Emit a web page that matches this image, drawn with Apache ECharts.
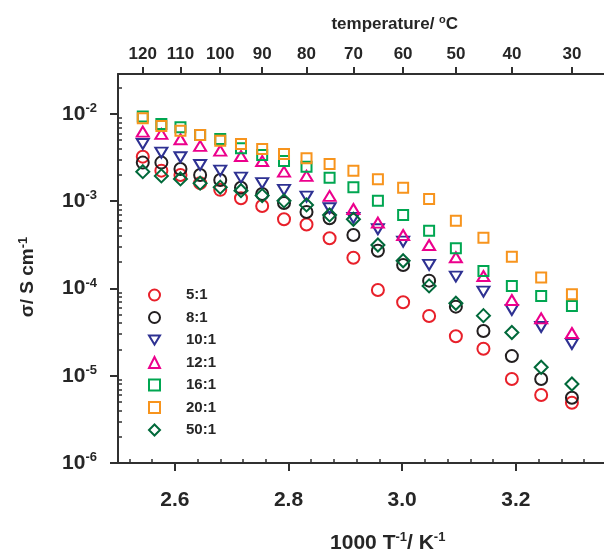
<!DOCTYPE html>
<html><head><meta charset="utf-8">
<script src="https://cdn.jsdelivr.net/npm/echarts@6/dist/echarts.min.js"></script>
<style>html,body{margin:0;padding:0;background:#fff}#c{width:604px;height:551px}</style>
</head><body><div id="c"></div>
<script>
// x values: 1000/T (K^-1), measurement temperatures 120 ... 30 °C in 5 °C steps
const invT = [2.5436, 2.5763, 2.6099, 2.6445, 2.6799, 2.7164, 2.7537, 2.7921, 2.8317, 2.8723,
              2.9142, 2.9573, 3.0017, 3.0474, 3.0945, 3.1430, 3.1930, 3.2446, 3.2987];
const r5  = [3.24e-3, 2.24e-3, 2.00e-3, 1.61e-3, 1.35e-3, 1.08e-3, 8.82e-4, 6.21e-4, 5.41e-4, 3.76e-4,
             2.25e-4, 9.61e-5, 6.95e-5, 4.84e-5, 2.83e-5, 2.04e-5, 9.18e-6, 6.02e-6, 4.91e-6];
const r8  = [2.77e-3, 2.77e-3, 2.34e-3, 2.00e-3, 1.75e-3, 1.43e-3, 1.21e-3, 9.55e-4, 7.53e-4, 6.38e-4,
             4.10e-4, 2.71e-4, 1.86e-4, 1.23e-4, 6.19e-5, 3.26e-5, 1.68e-5, 9.18e-6, 5.60e-6];
const r10 = [4.53e-3, 3.60e-3, 3.19e-3, 2.60e-3, 2.24e-3, 1.86e-3, 1.61e-3, 1.35e-3, 1.13e-3, 8.30e-4,
             6.43e-4, 4.77e-4, 3.44e-4, 1.86e-4, 1.37e-4, 9.19e-5, 5.67e-5, 3.62e-5, 2.31e-5];
const r12 = [6.27e-3, 5.90e-3, 5.13e-3, 4.30e-3, 3.80e-3, 3.30e-3, 2.89e-3, 2.18e-3, 1.95e-3, 1.15e-3,
             8.15e-4, 5.68e-4, 4.10e-4, 3.15e-4, 2.28e-4, 1.39e-4, 7.38e-5, 4.55e-5, 3.09e-5];
const r16 = [9.36e-3, 7.68e-3, 7.04e-3, 5.74e-3, 5.17e-3, 4.04e-3, 3.39e-3, 2.89e-3, 2.49e-3, 1.86e-3,
             1.45e-3, 1.01e-3, 6.96e-4, 4.60e-4, 2.89e-4, 1.59e-4, 1.07e-4, 8.20e-5, 6.30e-5];
const r20 = [8.93e-3, 7.29e-3, 6.44e-3, 5.74e-3, 4.94e-3, 4.53e-3, 3.97e-3, 3.48e-3, 3.11e-3, 2.67e-3,
             2.24e-3, 1.79e-3, 1.43e-3, 1.06e-3, 5.98e-4, 3.82e-4, 2.31e-4, 1.34e-4, 8.58e-5];
const r50 = [2.18e-3, 1.95e-3, 1.80e-3, 1.61e-3, 1.45e-3, 1.32e-3, 1.16e-3, 1.01e-3, 9.06e-4, 6.96e-4,
             6.21e-4, 3.15e-4, 2.08e-4, 1.07e-4, 6.77e-5, 4.88e-5, 3.13e-5, 1.25e-5, 8.04e-6];
const seriesNames = ['5:1', '8:1', '10:1', '12:1', '16:1', '20:1', '50:1'];

// axis ticks
const xMajorTicks = [2.6, 2.8, 3.0, 3.2];
const xMinorTicks = [2.52, 2.56, 2.64, 2.68, 2.72, 2.76, 2.84, 2.88, 2.92, 2.96,
                     3.04, 3.08, 3.12, 3.16, 3.24, 3.28, 3.32, 3.36];
const yMajorTicks = [1e-6, 1e-5, 1e-4, 1e-3, 1e-2];
const topTempLabels = [120, 110, 100, 90, 80, 70, 60, 50, 40, 30];

const X_MIN = 2.5, X_MAX = 3.4, Y_MIN = 1e-6, Y_MAX = 0.0287;
const FONT = 'Liberation Sans';
const TXT = '#262626';
const AX = '#303030';

const topTickPos = topTempLabels.map(t => 1000 / (t + 273.15));
const yMinorLog = [];
for (let e = -6; e <= -2; e++) for (let k = 2; k <= 9; k++) {
  const v = e + Math.log10(k);
  if (v < Math.log10(Y_MAX)) yMinorLog.push(v);
}

const chart = echarts.init(document.getElementById('c'), null, {renderer: 'canvas'});

function mk(name, data, symbol, size, color, rotate) {
  return {
    type: 'scatter', name: name, xAxisIndex: 0, yAxisIndex: 0,
    data: invT.map((x, i) => [x, data[i]]),
    symbol: symbol, symbolSize: size, symbolRotate: rotate || 0,
    itemStyle: {color: 'rgba(255,255,255,0)', borderColor: color, borderWidth: 2, opacity: 1},
    emphasis: {disabled: true}, silent: true
  };
}

const lineStyle = {color: AX, width: 2};
const spacer = w => ({width: w, height: 1});
const supRich = {
  b: {fontSize: 21, fontWeight: 'bold', fontFamily: FONT, color: TXT, lineHeight: 24},
  s: {fontSize: 13, fontWeight: 'bold', fontFamily: FONT, color: TXT, verticalAlign: 'top', lineHeight: 14},
  sp: spacer(28)
};

chart.setOption({
  animation: false,
  backgroundColor: '#ffffff',
  grid: {left: 118, top: 74, width: 511.5, height: 389, containLabel: false, outerBoundsMode: 'none'},
  legend: {
    orient: 'vertical', left: 143, top: 282.5, itemGap: 7.5, itemWidth: 11, itemHeight: 11,
    padding: 5, selectedMode: false,
    data: seriesNames.map(n => n === '10:1' ? {name: n, icon: 'path://M0,0 L12,0 L6,10 Z'} : {name: n}),
    textStyle: {fontSize: 15, fontWeight: 'bold', fontFamily: FONT, color: TXT, lineHeight: 15, padding: [0, 0, 0, 21]}
  },
  xAxis: [
    {
      type: 'value', position: 'bottom', min: X_MIN, max: X_MAX,
      axisLine: {show: true, onZero: false, lineStyle: lineStyle},
      axisTick: {show: true, inside: false, length: 8, customValues: xMajorTicks, lineStyle: {color: AX, width: 2}},
      axisLabel: {show: true, customValues: xMajorTicks, margin: 27, formatter: v => v.toFixed(1),
                  fontSize: 21, fontWeight: 'bold', fontFamily: FONT, color: TXT},
      splitLine: {show: false},
      name: '{sp|}{b|1000 T}{s|-1}{b|/ K}{s|-1}', nameLocation: 'middle', nameGap: 68,
      nameTextStyle: {rich: supRich}
    },
    {
      type: 'value', position: 'top', min: X_MIN, max: X_MAX,
      axisLine: {show: true, onZero: false, lineStyle: lineStyle},
      axisTick: {show: true, inside: false, length: 7, customValues: topTickPos, lineStyle: {color: AX, width: 2}},
      axisLabel: {show: true, customValues: topTickPos, margin: 11,
                  formatter: v => String(Math.round(1000 / v - 273.15)),
                  fontSize: 17, fontWeight: 'bold', fontFamily: FONT, color: TXT},
      splitLine: {show: false},
      name: '{sp|}{b|temperature/ }{s|o}{b|C}', nameLocation: 'middle', nameGap: 40,
      nameTextStyle: {rich: {
        b: {fontSize: 17, fontWeight: 'bold', fontFamily: FONT, color: TXT, lineHeight: 20},
        s: {fontSize: 11, fontWeight: 'bold', fontFamily: FONT, color: TXT, verticalAlign: 'top', lineHeight: 12},
        sp: spacer(42)
      }}
    },
    {
      type: 'value', position: 'bottom', min: X_MIN, max: X_MAX,
      axisLine: {show: false, onZero: false},
      axisTick: {show: true, inside: true, length: 4, customValues: xMinorTicks, lineStyle: {color: AX, width: 1.5}},
      axisLabel: {show: false}, splitLine: {show: false}
    }
  ],
  yAxis: [
    {
      type: 'log', logBase: 10, position: 'left', min: Y_MIN, max: Y_MAX,
      axisLine: {show: true, onZero: false, lineStyle: lineStyle},
      axisTick: {show: true, inside: false, length: 8, customValues: yMajorTicks, lineStyle: {color: AX, width: 2}},
      axisLabel: {show: true, customValues: yMajorTicks, margin: 21,
                  formatter: v => '{b|10}{s|' + Math.round(Math.log10(v)) + '}', rich: supRich},
      splitLine: {show: false},
      name: '{n|σ/ S cm}{s|-1}{sp|}', nameLocation: 'middle', nameGap: 79, nameRotate: 90,
      nameTextStyle: {rich: {
        n: {fontSize: 19, fontWeight: 'bold', fontFamily: FONT, color: TXT, lineHeight: 22},
        s: {fontSize: 13, fontWeight: 'bold', fontFamily: FONT, color: TXT, verticalAlign: 'top', lineHeight: 14},
        sp: spacer(17)
      }}
    },
    {
      type: 'value', position: 'left', min: -6, max: Math.log10(Y_MAX),
      axisLine: {show: false, onZero: false},
      axisTick: {show: true, inside: true, length: 4, customValues: yMinorLog, lineStyle: {color: AX, width: 1.5}},
      axisLabel: {show: false}, splitLine: {show: false}
    }
  ],
  series: [
    mk('5:1', r5, 'circle', 12, '#e8202a'),
    mk('8:1', r8, 'circle', 12, '#231f20'),
    mk('10:1', r10, 'triangle', [12, 10], '#2e3192', 180),
    mk('12:1', r12, 'triangle', [12, 10], '#ec008c'),
    mk('16:1', r16, 'rect', 10, '#00a651'),
    mk('20:1', r20, 'rect', 10, '#f7941d'),
    mk('50:1', r50, 'diamond', 13, '#00693a')
  ]
});
</script>
</body></html>
